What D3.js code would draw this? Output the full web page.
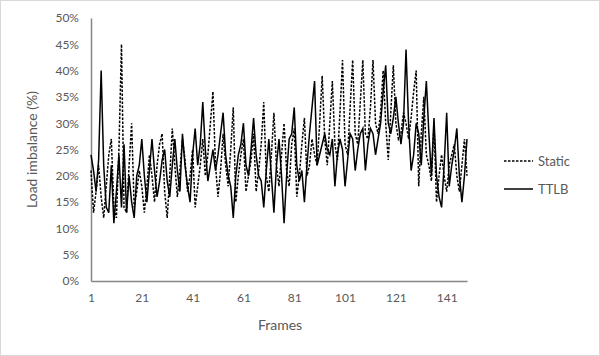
<!DOCTYPE html>
<html>
<head>
<meta charset="utf-8">
<script src="https://cdn.jsdelivr.net/npm/d3@7"></script>
<style>
  body { margin: 0; background: #fff; }
  text { font-family: Lato, "Liberation Sans", sans-serif; fill: #595959; }
</style>
</head>
<body>
<div id="chart"></div>
<script>
// frames 1..149
const ttlb = [
  24, 21, 17, 23, 40, 22, 14, 13, 22, 11, 17, 24, 14, 26, 13, 20, 15, 12, 20, 22,
  27, 20, 15, 21, 27, 21, 16, 19, 23, 25, 19, 16, 22, 27, 21, 17, 28, 22, 18, 15,
  24, 29, 22, 26, 34, 25, 19, 22, 25, 21, 24, 28, 32, 24, 20, 18, 12, 20, 24, 26,
  30, 22, 20, 25, 31, 24, 20, 19, 14, 21, 27, 20, 13, 22, 27, 20, 11, 20, 27, 28,
  33, 22, 19, 21, 15, 22, 28, 33, 38, 22, 24, 26, 28, 25, 24, 27, 18, 24, 27, 25,
  18, 23, 28, 27, 21, 25, 28, 29, 21, 26, 29, 28, 24, 27, 30, 36, 41, 30, 28, 31,
  35, 30, 26, 30, 44, 30, 21, 24, 30, 28, 22, 31, 38, 28, 20, 31, 20, 16, 14, 22,
  32, 18, 22, 25, 29, 20, 15, 20, 27,
];
const staticLB = [
  21, 13, 17, 22, 16, 12, 18, 24, 27, 14, 12, 25, 45, 14, 13, 22, 30, 14, 17, 21,
  18, 13, 18, 24, 20, 15, 22, 26, 28, 17, 12, 20, 29, 22, 16, 21, 27, 23, 17, 20,
  25, 14, 18, 22, 27, 20, 24, 30, 36, 22, 16, 21, 28, 22, 18, 25, 33, 15, 20, 24,
  27, 17, 20, 23, 28, 17, 21, 26, 34, 20, 17, 24, 32, 22, 18, 24, 30, 21, 18, 26,
  29, 16, 20, 26, 31, 20, 22, 27, 24, 22, 30, 39, 27, 22, 30, 38, 26, 23, 32, 42,
  26, 24, 33, 42, 28, 26, 34, 42, 28, 27, 33, 42, 30, 28, 32, 40, 30, 23, 32, 41,
  30, 27, 28, 32, 30, 27, 31, 36, 40, 18, 28, 35, 24, 22, 19, 30, 15, 20, 24, 20,
  17, 22, 24, 26, 20, 17, 22, 27, 20,
];
const yTicks = [0, 5, 10, 15, 20, 25, 30, 35, 40, 45, 50];
const xTicks = [1, 21, 41, 61, 81, 101, 121, 141];
const seriesNames = ["Static", "TTLB"];

const W = 600, H = 356;
const margin = { top: 18, right: 133, bottom: 75, left: 91 };

const svg = d3.select("#chart").append("svg")
  .attr("width", W).attr("height", H);

svg.append("rect")
  .attr("x", 0.5).attr("y", 0.5)
  .attr("width", W - 1).attr("height", H - 1)
  .attr("fill", "#fff").attr("stroke", "#d9d9d9");

const frames = d3.range(1, ttlb.length + 1);

const x = d3.scaleLinear()
  .domain([1, frames.length])
  .range([margin.left, W - margin.right]);
const y = d3.scaleLinear()
  .domain([0, 50])
  .range([H - margin.bottom, margin.top]);

// y axis
const yAxis = svg.append("g")
  .attr("transform", `translate(${margin.left},0)`)
  .call(d3.axisLeft(y).tickValues(yTicks).tickSize(0).tickPadding(12).tickFormat(d => d + "%"));
yAxis.select(".domain").attr("stroke", "#868686").attr("stroke-width", 1.5);
yAxis.selectAll("text").style("font-size", "12px").attr("fill", "#595959");

// x axis
const xAxis = svg.append("g")
  .attr("transform", `translate(0,${H - margin.bottom})`)
  .call(d3.axisBottom(x).tickValues(xTicks).tickSize(0).tickPadding(12).tickFormat(d3.format("d")));
xAxis.select(".domain").attr("stroke", "#868686").attr("stroke-width", 1.5);
xAxis.selectAll("text").style("font-size", "12px").attr("fill", "#595959");

// axis titles
svg.append("text")
  .attr("x", 280)
  .attr("y", 330)
  .attr("text-anchor", "middle")
  .style("font-size", "14px")
  .text("Frames");

svg.append("text")
  .attr("transform", `translate(37,${(margin.top + H - margin.bottom) / 2}) rotate(-90)`)
  .attr("text-anchor", "middle")
  .style("font-size", "14px")
  .text("Load imbalance (%)");

// lines
const line = d3.line()
  .x((d, i) => x(frames[i]))
  .y(d => y(d));

svg.append("path")
  .datum(staticLB)
  .attr("fill", "none")
  .attr("stroke", "#000")
  .attr("stroke-width", 1.5)
  .attr("stroke-dasharray", "2.5,1.5")
  .attr("d", line);

svg.append("path")
  .datum(ttlb)
  .attr("fill", "none")
  .attr("stroke", "#000")
  .attr("stroke-width", 1.5)
  .attr("d", line);

// legend
const legend = svg.append("g").attr("transform", "translate(504,161)");
seriesNames.forEach((name, i) => {
  const g = legend.append("g").attr("transform", `translate(0,${i * 28})`);
  g.append("line")
    .attr("x1", 0).attr("x2", 29)
    .attr("stroke", "#000").attr("stroke-width", 1.5)
    .attr("stroke-dasharray", i === 0 ? "2.5,1.5" : null);
  g.append("text")
    .attr("x", 34).attr("y", 4.5)
    .style("font-size", "13px")
    .text(name);
});
</script>
</body>
</html>
